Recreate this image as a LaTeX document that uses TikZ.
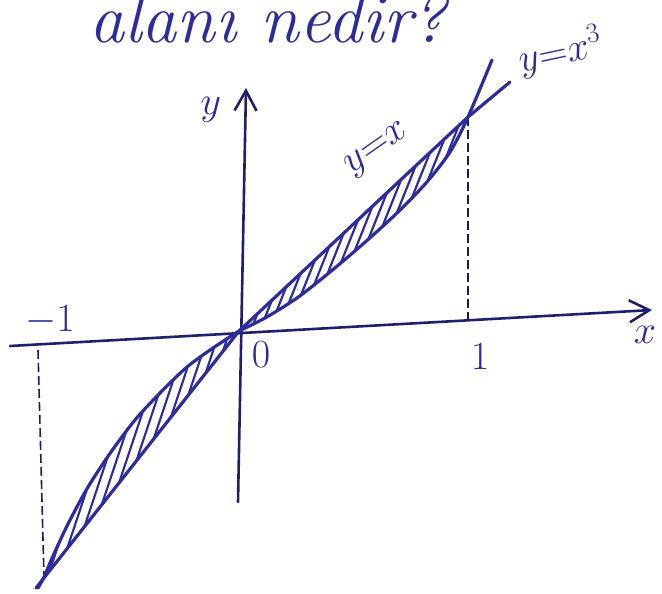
\RequirePackage{fix-cm}
\documentclass[tikz,border=0pt]{standalone}
\usetikzlibrary{arrows.meta}
\definecolor{tinte}{HTML}{2C2C9C}

\begin{document}
\begin{tikzpicture}[x=1pt, y=-1pt,
    stift/.style={tinte, line width=3.2pt, line cap=round, line join=round},
    achse/.style={tinte!70!black, line width=2.6pt, line cap=round,
                  -{Straight Barb[length=20pt, width=22pt, line width=2.6pt]}},
    hilfs/.style={tinte!60!black, line width=1.6pt, dash pattern=on 9pt off 4pt},
    schraff/.style={tinte, line width=2.2pt},
    beschr/.style={text=tinte, font=\fontsize{40}{40}\selectfont}
  ]
  \useasboundingbox (0,0) rectangle (662,594);
  % Punkte
  \coordinate (O)  at (239,331);
  \coordinate (P)  at (468,117);
  \coordinate (Q)  at (44,577);
  \coordinate (xa) at (10,346);
  \coordinate (xe) at (652,310);
  \coordinate (ya) at (238,502);
  \coordinate (ye) at (246,88);
  \coordinate (P1) at (468,319);
  \coordinate (Q1) at (38,350);

  % Achsen
  \draw[achse] (xa) -- (xe);
  \draw[achse] (ya) -- (ye);
  \draw[hilfs] (P) -- (P1);
  \draw[hilfs] (Q1) -- (Q);

  % Schraffur
  \begin{scope}
    \clip plot[smooth] coordinates {(239,331) (265,318) (297,298) (330,272)
      (363,244) (397,213) (426,183) (450,152) (468,117)} -- cycle;
    \foreach \s in {140,149,...,480}
      \draw[schraff] (\s,360) -- ++(120,-300);
  \end{scope}
  \begin{scope}
    \clip plot[smooth] coordinates {(44,577) (53,556) (68,524) (88,487)
      (111,452) (135,420) (160,393) (187,367) (213,348) (239,331)} -- cycle;
    \foreach \s in {-60,-50,...,250}
      \draw[schraff] (\s,600) -- ++(100,-300);
  \end{scope}

  % Kurven
  \draw[stift] (36,588) -- (O) -- (P) -- (510,82);
  \draw[stift] plot[smooth] coordinates {(239,331) (265,318) (297,298) (330,272)
      (363,244) (397,213) (426,183) (450,152) (468,117) (492,60)};
  \draw[stift] plot[smooth] coordinates {(38,588) (44,577) (53,556) (68,524) (88,487)
      (111,452) (135,420) (160,393) (187,367) (213,348) (239,331)};

  % Beschriftung
  \node[beschr, font=\fontsize{70}{70}\selectfont\itshape, anchor=base] (frage)
    at (268,43) {alanı nedir?};
  \node[beschr] (ly)  at (211,110) {$y$};
  \node[beschr] (lx)  at (645,335) {$x$};
  \node[beschr] (l0)  at (261,355) {$0$};
  \node[beschr] (l1)  at (480,357) {$1$};
  \node[beschr] (lm1) at (50,320)  {$-1$};
  \node[beschr, rotate=35] (lyx)  at (378,150) {$y{=}x$};
  \node[beschr, rotate=12] (lyx3) at (560,52)  {$y{=}x^3$};
\end{tikzpicture}
\end{document}
